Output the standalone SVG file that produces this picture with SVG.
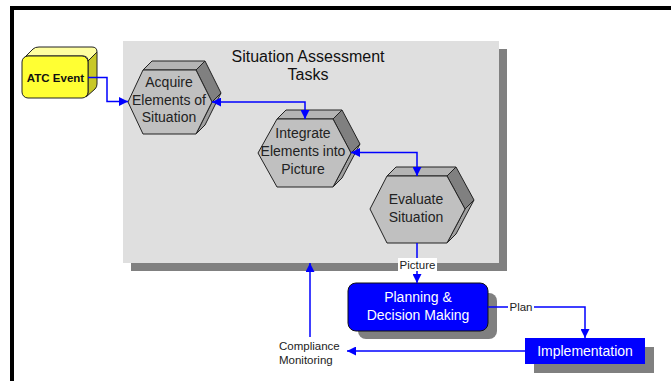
<svg xmlns="http://www.w3.org/2000/svg" width="671" height="381" viewBox="0 0 671 381">
<defs>
<style>
text{font-family:"Liberation Sans",Arial,sans-serif;}
.hx{font-size:14px;fill:#222;text-anchor:middle;}
.lbl{font-size:11.5px;fill:#222;}
.wt{font-size:14px;fill:#fff;text-anchor:middle;}
.edge{fill:none;stroke:#0000ff;stroke-width:1.5;}
.front{fill:#c0c0c0;stroke:#222;stroke-width:1;stroke-linejoin:round;}
.top{fill:#b4b4b4;stroke:#222;stroke-width:1;stroke-linejoin:round;}
.rup{fill:#808080;stroke:#222;stroke-width:1;stroke-linejoin:round;}
.rlo{fill:#a0a0a0;stroke:#222;stroke-width:1;stroke-linejoin:round;}
</style>
<marker id="ah" markerWidth="9" markerHeight="9" refX="9" refY="4.5" orient="auto-start-reverse" markerUnits="userSpaceOnUse">
<path d="M0,0 L9,4.5 L0,9 Z" fill="#0000ff"/>
</marker>
</defs>
<rect x="0" y="0" width="671" height="381" fill="#fff"/>
<!-- frame -->
<rect x="10" y="6" width="661" height="4" fill="#000"/>
<rect x="10" y="6" width="4" height="375" fill="#000"/>

<!-- panel -->
<g id="panel">
<rect x="131" y="49" width="376" height="222" fill="#808080"/>
<rect x="123" y="41" width="376" height="222" fill="#dfdfdf"/>
<text x="308" y="61.5" font-size="16" text-anchor="middle" fill="#111">Situation Assessment</text>
<text x="308" y="80" font-size="16" text-anchor="middle" fill="#111">Tasks</text>
</g>

<g id="atc">
<path d="M24,58 L33,49 Q35,47 39,47 L92,47 Q97,47 97,52 L88,61 Q88,56 83,56 L28,56 Q25,56 24,58 Z" fill="#ffffa0" stroke="#222" stroke-width="1"/>
<path d="M88,61 L97,52 L97,84 Q97,87 95,89 L86,97 Q88,95 88,93 Z" fill="#c8c828" stroke="#222" stroke-width="1"/>
<rect x="22" y="56" width="66" height="42" rx="6" fill="#ffff33" stroke="#222" stroke-width="1"/>
<text x="55.5" y="81.5" font-size="11.5" font-weight="bold" text-anchor="middle" fill="#111">ATC Event</text>
</g>

<g id="acquire">
<polygon class="top" points="143,70 152,61 205,61 196,70"/>
<polygon class="rup" points="196,70 205,61 221,93 212,102"/>
<polygon class="rlo" points="212,102 221,93 205,125 196,134"/>
<polygon class="front" points="128,102 143,70 196,70 212,102 196,134 143,134"/>
<text class="hx" x="169" y="87">Acquire</text>
<text class="hx" x="169" y="104.5">Elements of</text>
<text class="hx" x="169" y="122">Situation</text>
</g>

<g id="integrate">
<polygon class="top" points="277,119 286,110 342,110 333,119"/>
<polygon class="rup" points="333,119 342,110 360,144 351,153"/>
<polygon class="rlo" points="351,153 360,144 342,178 333,187"/>
<polygon class="front" points="258,153 277,119 333,119 351,153 333,187 277,187"/>
<text class="hx" x="303" y="138">Integrate</text>
<text class="hx" x="303" y="156">Elements into</text>
<text class="hx" x="303" y="174">Picture</text>
</g>

<g id="evaluate">
<polygon class="top" points="387,176 396,167 456,167 447,176"/>
<polygon class="rup" points="447,176 456,167 474,200 465,209"/>
<polygon class="rlo" points="465,209 474,200 456,234 447,243"/>
<polygon class="front" points="370,209 387,176 447,176 465,209 447,243 387,243"/>
<text class="hx" x="416" y="204">Evaluate</text>
<text class="hx" x="416" y="222">Situation</text>
</g>

<g id="planning">
<rect x="358" y="293" width="139" height="46" rx="8" fill="#808080"/>
<rect x="348" y="283" width="140" height="48" rx="8" fill="#0000ff" stroke="#111" stroke-width="1"/>
<text class="wt" x="418" y="302">Planning &amp;</text>
<text class="wt" x="418" y="320">Decision Making</text>
</g>

<g id="implementation">
<rect x="534" y="347" width="120" height="26" fill="#808080"/>
<rect x="525" y="338" width="120" height="26" fill="#0000ff"/>
<text class="wt" x="585" y="356">Implementation</text>
</g>

<g id="compliance">
<text class="lbl" x="279" y="350">Compliance</text>
<text class="lbl" x="279" y="364">Monitoring</text>
</g>

<g id="connectors">
<path class="edge" d="M88,77.5 H107 V101.5 H128" marker-end="url(#ah)"/>
<path class="edge" d="M212,102 H305 V119" marker-start="url(#ah)" marker-end="url(#ah)"/>
<path class="edge" d="M351,152.5 H417 V176" marker-start="url(#ah)" marker-end="url(#ah)"/>
<path class="edge" d="M417,243 V283" marker-end="url(#ah)"/>
<path class="edge" d="M488,307 H585 V338" marker-end="url(#ah)"/>
<path class="edge" d="M525,351 H347" marker-end="url(#ah)"/>
<path class="edge" d="M310,337 V263" marker-end="url(#ah)"/>
<rect x="398" y="258" width="39" height="13" fill="#fff"/>
<text class="lbl" x="417.5" y="268.5" text-anchor="middle">Picture</text>
<rect x="508" y="300" width="26" height="14" fill="#fff"/>
<text class="lbl" x="521" y="311" text-anchor="middle">Plan</text>
</g>
</svg>
